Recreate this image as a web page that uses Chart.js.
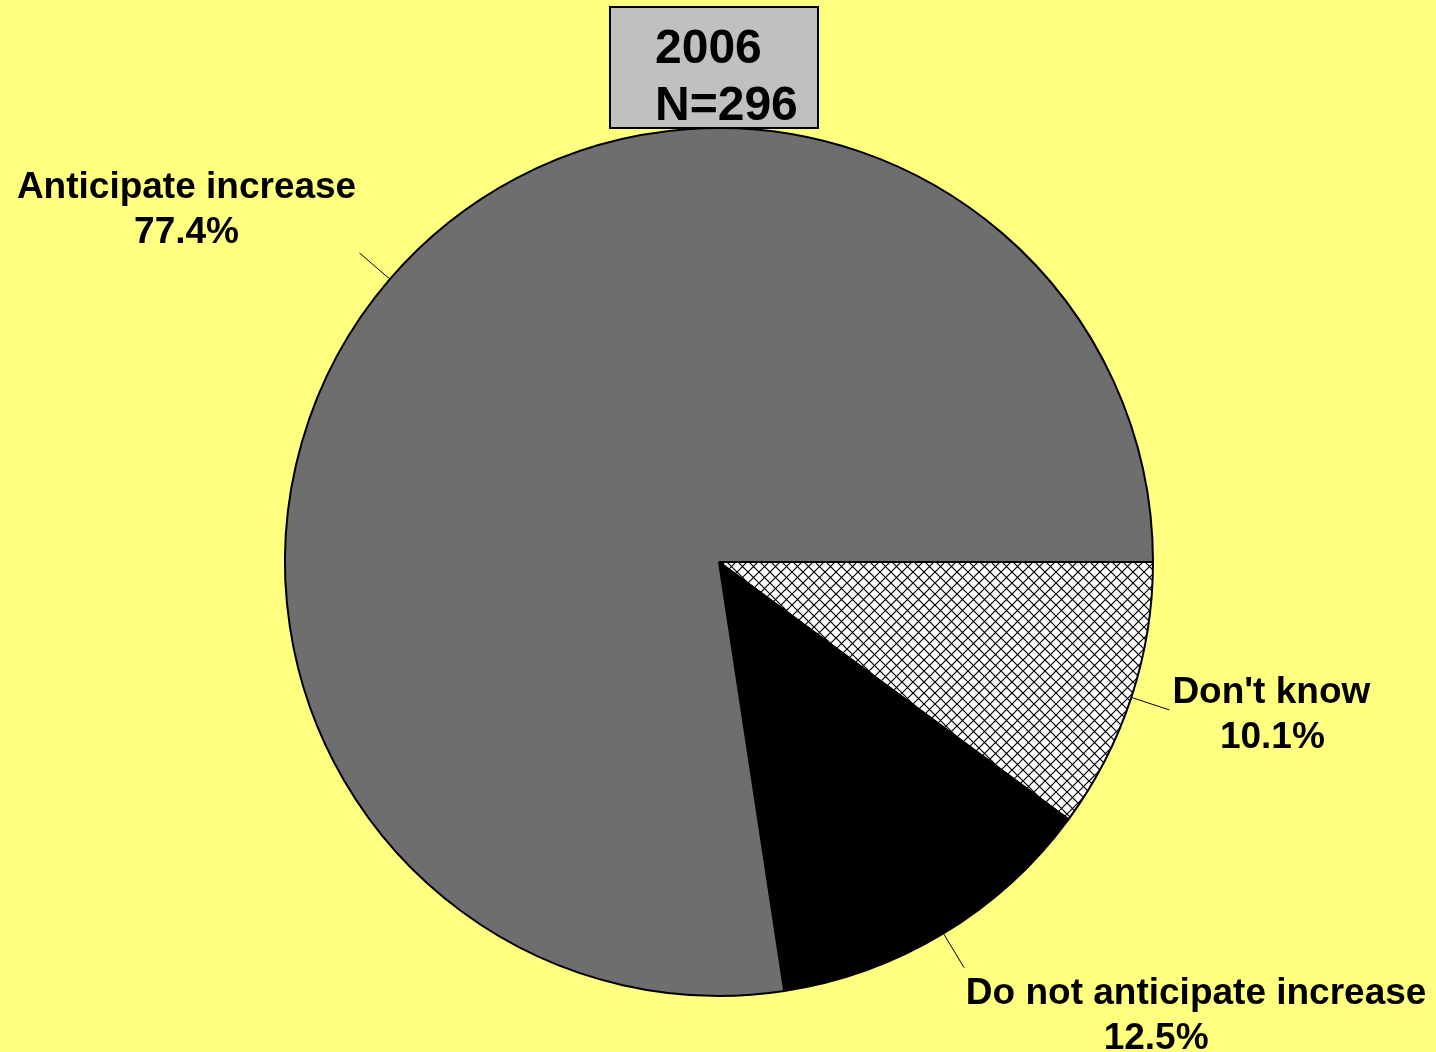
<!DOCTYPE html>
<html>
<head>
<meta charset="utf-8">
<script src="https://cdn.jsdelivr.net/npm/chart.js@4.4.1/dist/chart.umd.min.js"></script>
<style>
    html, body { margin: 0; padding: 0; background: #ffff80; }
    #wrap { width: 1436px; height: 1052px; position: relative; }
</style>
</head>
<body>
<div id="wrap"><canvas id="pie"></canvas></div>
<script>
// data, clockwise from 3 o'clock
const labels = ["Don't know", 'Do not anticipate increase', 'Anticipate increase'];
const values = [10.1, 12.5, 77.4];
const titleLines = ['2006', 'N=296'];

// label text offsets from the end of each leader line (name x, name y, percent x shift)
const labelOffsets = [[102, -17, 1], [232, 26, -40], [-173, -65, 0]];

function crossHatch() {
    const s = 11;
    const c = document.createElement('canvas');
    c.width = s; c.height = s;
    const g = c.getContext('2d');
    g.fillStyle = '#fff';
    g.fillRect(0, 0, s, s);
    g.strokeStyle = '#000';
    g.lineWidth = 1.2;
    g.beginPath();
    g.moveTo(0, 0); g.lineTo(s, s);
    g.moveTo(s, 0); g.lineTo(0, s);
    g.stroke();
    return g.createPattern(c, 'repeat');
}

const pieLabels = {
    id: 'pieLabels',
    afterDraw(chart) {
        const ctx = chart.ctx;
        const arcs = chart.getDatasetMeta(0).data;
        ctx.save();
        ctx.font = 'bold 37px "Liberation Sans", Arial, sans-serif';
        ctx.fillStyle = '#000';
        ctx.textAlign = 'center';
        ctx.textBaseline = 'middle';
        arcs.forEach((arc, i) => {
            const { x, y, startAngle, endAngle, outerRadius } = arc.getProps(['x', 'y', 'startAngle', 'endAngle', 'outerRadius'], true);
            const mid = (startAngle + endAngle) / 2;
            const x1 = x + Math.cos(mid) * outerRadius, y1 = y + Math.sin(mid) * outerRadius;
            const x2 = x + Math.cos(mid) * (outerRadius + 40), y2 = y + Math.sin(mid) * (outerRadius + 40);
            ctx.strokeStyle = '#000';
            ctx.lineWidth = 1;
            ctx.beginPath();
            ctx.moveTo(x1, y1); ctx.lineTo(x2, y2);
            ctx.stroke();
            const [dx, dy, px] = labelOffsets[i];
            const lx = x2 + dx, ly = y2 + dy;
            ctx.fillText(labels[i], lx, ly);
            ctx.fillText(values[i].toFixed(1) + '%', lx + px, ly + 45);
        });

        // title box
        ctx.fillStyle = '#c0c0c0';
        ctx.fillRect(610, 7, 208, 121);
        ctx.strokeStyle = '#000';
        ctx.lineWidth = 2;
        ctx.strokeRect(610, 7, 208, 121);
        ctx.fillStyle = '#000';
        ctx.font = 'bold 48px "Liberation Sans", Arial, sans-serif';
        ctx.textAlign = 'left';
        ctx.textBaseline = 'alphabetic';
        ctx.fillText(titleLines[0], 655, 63);
        ctx.fillText(titleLines[1], 655, 120);
        ctx.restore();
    }
};

new Chart(document.getElementById('pie'), {
    type: 'pie',
    data: {
        labels: labels,
        datasets: [{
            data: values,
            backgroundColor: [crossHatch(), '#000000', '#6e6e6e'],
            borderColor: '#000',
            borderWidth: 2,
            hoverOffset: 0
        }]
    },
    options: {
        responsive: true, maintainAspectRatio: false,
        animation: false,
        rotation: 90,
        radius: 434,
        layout: { padding: { left: 2, right: 0, top: 72, bottom: 0 } },
        plugins: { legend: { display: false }, tooltip: { enabled: false } }
    },
    plugins: [pieLabels]
});
</script>
</body>
</html>
